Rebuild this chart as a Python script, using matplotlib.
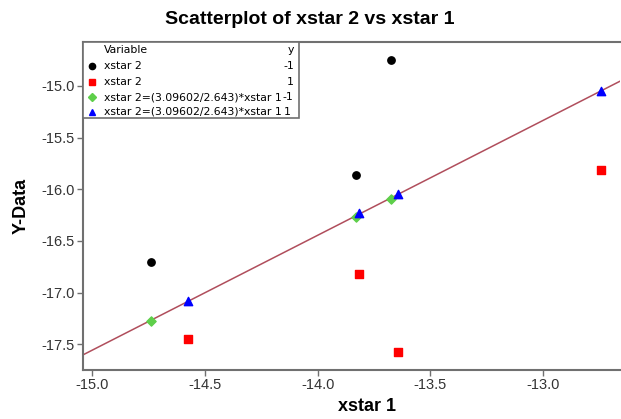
import numpy as np
import matplotlib
matplotlib.use('Agg')
import matplotlib.pyplot as plt
from matplotlib.patches import Rectangle

# values
x_neg = [-14.739, -13.829, -13.673]          # xstar 1, y = -1
y_neg = [-16.70, -15.867, -14.75]            # xstar 2, y = -1
x_pos = [-14.575, -13.815, -13.643, -12.742]  # xstar 1, y = 1
y_pos = [-17.45, -16.82, -17.58, -15.81]     # xstar 2, y = 1
fit_neg = [-17.274, -16.27, -16.09]          # line values at x_neg
fit_pos = [-17.078, -16.227, -16.043, -15.045]  # line values at x_pos

xticks = [-15.0, -14.5, -14.0, -13.5, -13.0]
yticks = [-15.0, -15.5, -16.0, -16.5, -17.0, -17.5]

W, H = 621, 419
fig = plt.figure(figsize=(W / 100, H / 100), dpi=100)
ax = fig.add_axes([83 / W, 1 - 370 / H, 537 / W, 328 / H])

# fitted line through the green/blue points
coef = np.polyfit(x_neg + x_pos, fit_neg + fit_pos, 1)
xs = np.array([-15.1, -12.5])
ax.plot(xs, np.polyval(coef, xs), color='#b04e5c', lw=1.1, zorder=2)

ax.scatter(x_neg, y_neg, marker='o', s=28, color='black', zorder=3)
ax.scatter(x_pos, y_pos, marker='s', s=30, color='#ff0000', zorder=3)
ax.scatter(x_neg, fit_neg, marker='D', s=22, color='#5ecf4a', zorder=3)
ax.scatter(x_pos, fit_pos, marker='^', s=36, color='#0000ff', zorder=4)

ax.set_xlim(-15.04, -12.66)
ax.set_ylim(-17.75, -14.575)
ax.set_xticks(xticks)
ax.set_yticks(yticks)
ax.set_xticklabels(['%.1f' % v for v in xticks], family='Liberation Sans')
ax.set_yticklabels(['%.1f' % v for v in yticks], family='Liberation Sans')

gray = '#707070'
for s in ['left', 'bottom', 'top']:
    ax.spines[s].set_color(gray)
    ax.spines[s].set_linewidth(1.5)
ax.spines['right'].set_visible(False)
ax.tick_params(direction='out', length=4, width=1, color=gray,
               labelsize=10.5, labelcolor='#333333', pad=2)

ax.set_xlabel('xstar 1', fontsize=13, fontweight='bold', family='Liberation Sans')
ax.xaxis.set_label_coords((367 - 83) / 537, -0.085)
ax.set_ylabel('Y-Data', fontsize=13, fontweight='bold', family='Liberation Sans')
ax.yaxis.set_label_coords((30 - 83) / 537, 0.5)
fig.text(310 / W, 1 - 19 / H, 'Scatterplot of xstar 2 vs xstar 1',
         ha='center', va='center', fontsize=14, fontweight='bold',
         family='Liberation Sans')

# legend box drawn by hand
def fx(px):
    return (px - 83) / 537

def fy(py):
    return (370 - py) / 328

ax.add_patch(Rectangle((fx(83), fy(118)), fx(299) - fx(83), fy(42) - fy(118),
                       transform=ax.transAxes, facecolor='white',
                       edgecolor=gray, lw=1.2, zorder=5, clip_on=False))
lfs = 7.8
ax.text(fx(104), fy(50), 'Variable', transform=ax.transAxes, fontsize=lfs,
        va='center', zorder=6)
ax.text(fx(294), fy(50), 'y', transform=ax.transAxes, fontsize=lfs,
        va='center', ha='right', zorder=6)
rows = [
    ('o', 'black', 'xstar 2', '-1', 66),
    ('s', '#ff0000', 'xstar 2', '1', 82),
    ('D', '#5ecf4a', 'xstar 2=(3.09602/2.643)*xstar 1', '-1', 97),
    ('^', '#0000ff', 'xstar 2=(3.09602/2.643)*xstar 1', '1', 112),
]
for mk, col, lab, val, py in rows:
    ax.plot([fx(92)], [fy(py)], marker=mk, color=col, ms=4.5,
            transform=ax.transAxes, zorder=6, clip_on=False)
    t = ax.text(fx(104), fy(py), lab, transform=ax.transAxes, fontsize=lfs,
                va='center', zorder=6)
    if lab.startswith('xstar 2='):
        ax.annotate(val, xy=(1, 0.5), xycoords=t, xytext=(1.5 if val == '1' else 0.5, 0),
                    textcoords='offset points', va='center', ha='left',
                    fontsize=lfs, zorder=6)
    else:
        ax.text(fx(294), fy(py), val, transform=ax.transAxes, fontsize=lfs,
                va='center', ha='right', zorder=6)

fig.savefig('out.png', dpi=100)
